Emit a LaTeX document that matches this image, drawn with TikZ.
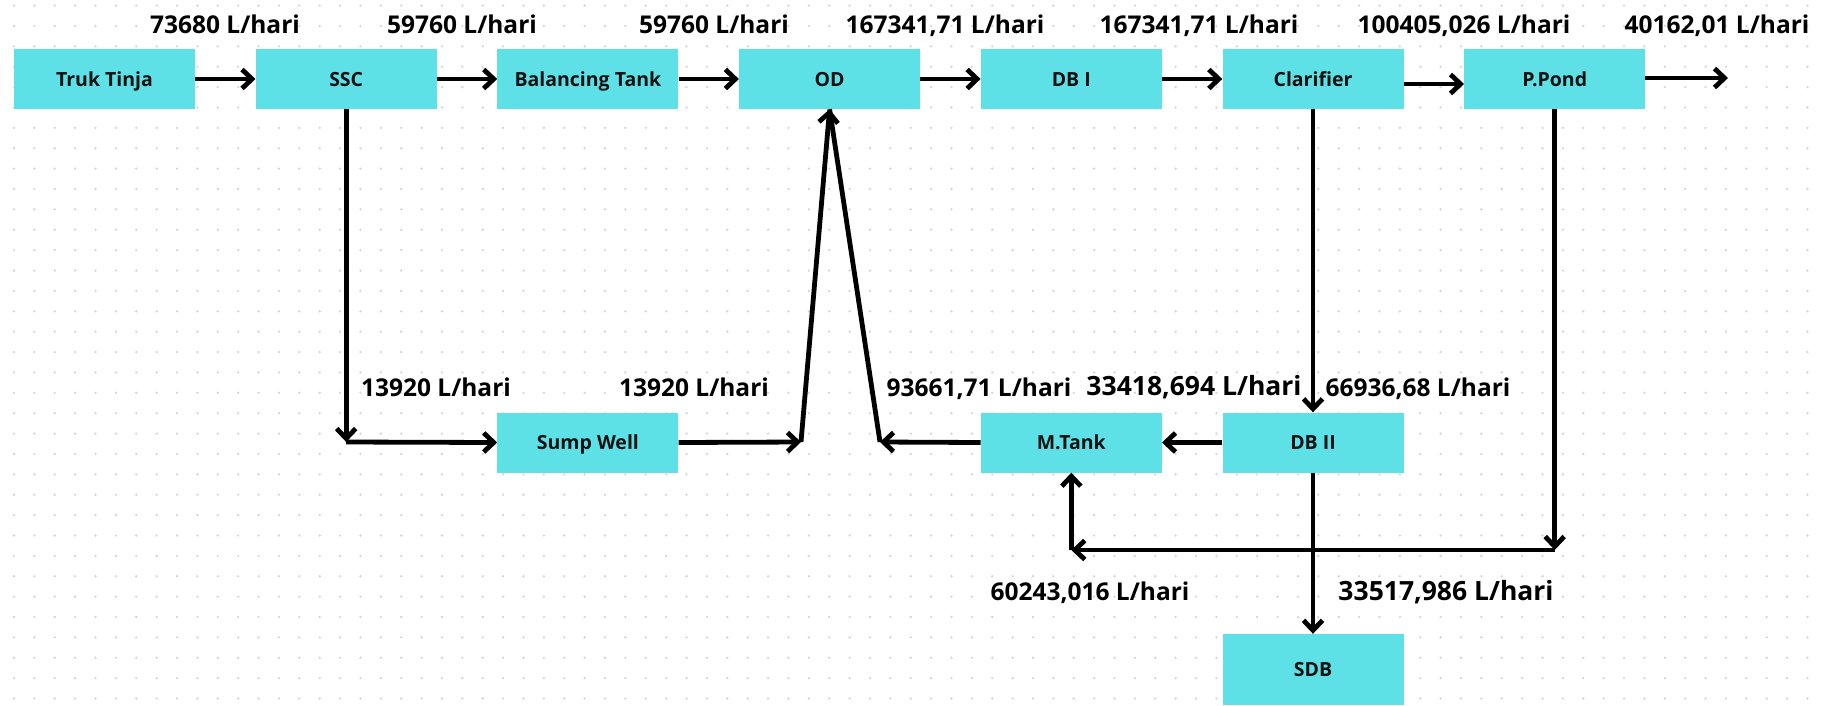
\documentclass[tikz,border=0pt]{standalone}
\usepackage{fontspec}
\setmainfont{Open Sans}
\usetikzlibrary{arrows.meta}
\definecolor{boxcyan}{HTML}{5EE1E6}
\definecolor{dotgray}{HTML}{D2D6DD}
\definecolor{txt}{HTML}{111111}
\begin{document}
\begin{tikzpicture}[x=1pt,y=-1pt,
  proc/.style={fill=boxcyan,draw=none,minimum width=181pt,minimum height=60pt,inner sep=0pt,
     font=\fontsize{19.5}{20}\selectfont\bfseries,text=txt,text height=14pt,text depth=0pt},
  lab/.style={anchor=base,inner sep=0pt,font=\fontsize{24.5}{26}\selectfont\bfseries,text=black},
  biglab/.style={anchor=base,inner sep=0pt,font=\fontsize{26.5}{28}\selectfont\bfseries,text=black},
  flow/.style={line width=4.8pt,line join=round,-{Straight Barb[length=10pt,width=19pt]}},
  plain/.style={line width=4.8pt,line join=round}]
\useasboundingbox (0,0) rectangle (1834,705);
\fill[white] (0,0) rectangle (1834,705);
% dot grid
\foreach \i in {0,...,88}{
  \foreach \j in {0,...,34}{
    \fill[dotgray] ({14+20.38*\i},{5.6+20.38*\j}) circle (1.3pt);
  }
}
% boxes
\node[proc] (tt) at (104.5,79) {Truk Tinja};
\node[proc] (ssc) at (346.2,79) {SSC};
\node[proc] (bt) at (587.9,79) {Balancing Tank};
\node[proc] (od) at (829.6,79) {OD};
\node[proc] (db1) at (1071.3,79) {DB I};
\node[proc] (cl) at (1313,79) {Clarifier};
\node[proc] (pp) at (1554.7,79) {P.Pond};
\node[proc] (sw) at (587.9,442.5) {Sump Well};
\node[proc] (mt) at (1071.3,442.5) {M.Tank};
\node[proc] (db2) at (1313,442.5) {DB II};
\node[proc,minimum height=71pt] (sdb) at (1313,669.5) {SDB};
% free points
\coordinate (out) at (1728,78);
\coordinate (c1) at (346.2,442);
\coordinate (c2) at (801,442);
\coordinate (c3) at (880,442);
\coordinate (c4) at (1554.7,550);
\coordinate (c5) at (1071.3,550);
% connectors
\draw[flow] (tt.east) -- (ssc.west);
\draw[flow] (ssc.east) -- (bt.west);
\draw[flow] (bt.east) -- (od.west);
\draw[flow] (od.east) -- (db1.west);
\draw[flow] (db1.east) -- (cl.west);
\draw[flow] ([yshift=-5pt]cl.east) -- ([yshift=-5pt]pp.west);
\draw[flow] ([yshift=1pt]pp.east) -- (out);
\draw[flow] (ssc.south) -- (c1);
\draw[flow] (c1) -- (sw.west);
\draw[flow] (sw.east) -- (c2);
\draw[flow] (c2) -- (od.south);
\draw[flow] (mt.west) -- (c3);
\draw[plain] (c3) -- (od.south);
\draw[flow] (cl.south) -- (db2.north);
\draw[flow] (db2.west) -- (mt.east);
\draw[flow] (db2.south) -- (sdb.north);
\draw[flow] (pp.south) -- (c4);
\draw[flow] (c4) -- (c5);
\draw[flow] (c5) -- (mt.south);
% labels
\node[lab] (l1) at (225,33) {73680 L/hari};
\node[lab] (l2) at (462,33) {59760 L/hari};
\node[lab] (l3) at (714,33) {59760 L/hari};
\node[lab] (l4) at (945,33) {167341,71 L/hari};
\node[lab] (l5) at (1199,33) {167341,71 L/hari};
\node[lab] (l6) at (1464,33) {100405,026 L/hari};
\node[lab] (l7) at (1717,33) {40162,01 L/hari};
\node[lab] (l8) at (436,396) {13920 L/hari};
\node[lab] (l9) at (694,396) {13920 L/hari};
\node[lab] (l10) at (979,396) {93661,71 L/hari};
\node[biglab] (l11) at (1194,395) {33418,694 L/hari};
\node[lab] (l12) at (1418,396) {66936,68 L/hari};
\node[lab] (l13) at (1090,600) {60243,016 L/hari};
\node[biglab] (l14) at (1446,600) {33517,986 L/hari};
\end{tikzpicture}
\end{document}
